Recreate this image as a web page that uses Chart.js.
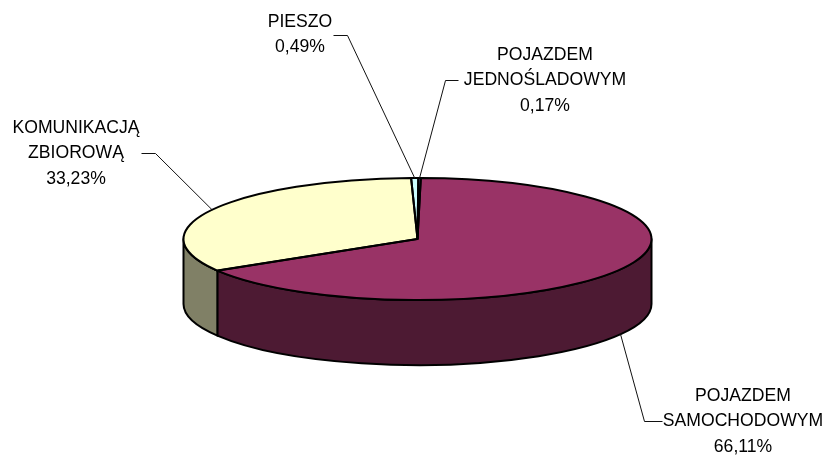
<!DOCTYPE html>
<html><head><meta charset="utf-8">
<style>html,body{margin:0;padding:0;background:#fff}#w{width:829px;height:456px;position:relative}</style>
<script src="https://cdn.jsdelivr.net/npm/chart.js@4/dist/chart.umd.js"></script>
</head><body><div id="w"><canvas id="c"></canvas></div>
<script>
// Data
const categories = [["POJAZDEM","JEDNOŚLADOWYM"],["POJAZDEM","SAMOCHODOWYM"],["KOMUNIKACJĄ","ZBIOROWĄ"],["PIESZO"]];
const shares = [0.17, 66.11, 33.23, 0.49];
// Style and layout
const topColors = ["#9999FF","#993366","#FFFFCC","#CCFFFF"];
const sideColors = ["#4D4D80","#4D1A33","#808066","#668080"];
const labelCenters = [[545,55],[743,396],[76,128],[300,22]];
const leaderElbows = [[[458,80],[445,80]],[[662,421],[644,421]],[[141,153],[155,153]],[[333,35],[347,35]]];
const lineHeight = 25.5;
const squash = 61/234, depth = 65, radius = 234;

function geom(chart){
  const meta = chart.getDatasetMeta(0);
  return meta.data.map(a=>({a, x:a.x, y:a.y, s:a.startAngle, e:a.endAngle, r:a.outerRadius}));
}
const pie3d = {
  id:'pie3d',
  beforeDatasetsDraw(chart){
    const ctx = chart.ctx, g = geom(chart);
    // walls, front half only
    ctx.save();
    ctx.lineWidth = 2; ctx.strokeStyle = '#000'; ctx.lineJoin='round';
    g.forEach((p,i)=>{
      const ry = p.r*squash;
      const s = Math.max(p.s,0), e = Math.min(p.e,Math.PI);
      if (e<=s) return;
      ctx.beginPath();
      ctx.ellipse(p.x,p.y,p.r,ry,0,s,e,false);
      ctx.lineTo(p.x+p.r*Math.cos(e), p.y+ry*Math.sin(e)+depth);
      ctx.ellipse(p.x,p.y+depth,p.r,ry,0,e,s,true);
      ctx.closePath();
      ctx.fillStyle = sideColors[i];
      ctx.fill(); ctx.stroke();
    });
    ctx.restore();
    ctx.save();
    const c = g[0];
    ctx.translate(c.x,c.y); ctx.scale(1,squash); ctx.translate(-c.x,-c.y);
  },
  afterDatasetsDraw(chart){
    const ctx = chart.ctx;
    ctx.restore();
    const g = geom(chart);
    ctx.save();
    ctx.lineWidth = 2; ctx.strokeStyle = '#000'; ctx.lineJoin='miter';
    g.forEach(p=>{
      const ry = p.r*squash;
      ctx.beginPath();
      ctx.moveTo(p.x,p.y);
      ctx.ellipse(p.x,p.y,p.r,ry,0,p.s,p.e,false);
      ctx.closePath();
      ctx.stroke();
    });
    ctx.restore();
  },
  afterDraw(chart){
    const ctx = chart.ctx, g = geom(chart);
    ctx.save();
    // leaders
    ctx.strokeStyle='#111'; ctx.lineWidth=1;
    g.forEach((p,i)=>{
      const m=(p.s+p.e)/2, ry=p.r*squash;
      let tx=p.x+p.r*Math.cos(m), ty=p.y+ry*Math.sin(m);
      if (Math.sin(m)>0) ty+=depth;
      ctx.beginPath();
      ctx.moveTo(leaderElbows[i][0][0]+.5,leaderElbows[i][0][1]+.5);
      ctx.lineTo(leaderElbows[i][1][0]+.5,leaderElbows[i][1][1]+.5);
      ctx.lineTo(tx,ty);
      ctx.stroke();
    });
    // labels
    ctx.fillStyle='#000'; ctx.textAlign='center'; ctx.textBaseline='middle';
    ctx.font='17.6px "Liberation Sans", Arial, sans-serif';
    categories.forEach((lines,i)=>{
      const all=[...lines, shares[i].toFixed(2).replace('.',',')+'%'];
      all.forEach((t,k)=>ctx.fillText(t,labelCenters[i][0],labelCenters[i][1]+k*lineHeight));
    });
    ctx.restore();
  }
};
new Chart(document.getElementById('c'),{
  type:'pie',
  data:{labels:categories.map(l=>l.join(' ')),
    datasets:[{data:shares,backgroundColor:topColors,borderWidth:0,radius:radius,clip:false}]},
  options:{
    responsive:true,maintainAspectRatio:false,animation:false,
    rotation:0.2,
    layout:{padding:{left:6,top:22,right:0,bottom:0}},
    events:[],
    plugins:{legend:{display:false},tooltip:{enabled:false}}
  },
  plugins:[pie3d]
});
</script></body></html>
